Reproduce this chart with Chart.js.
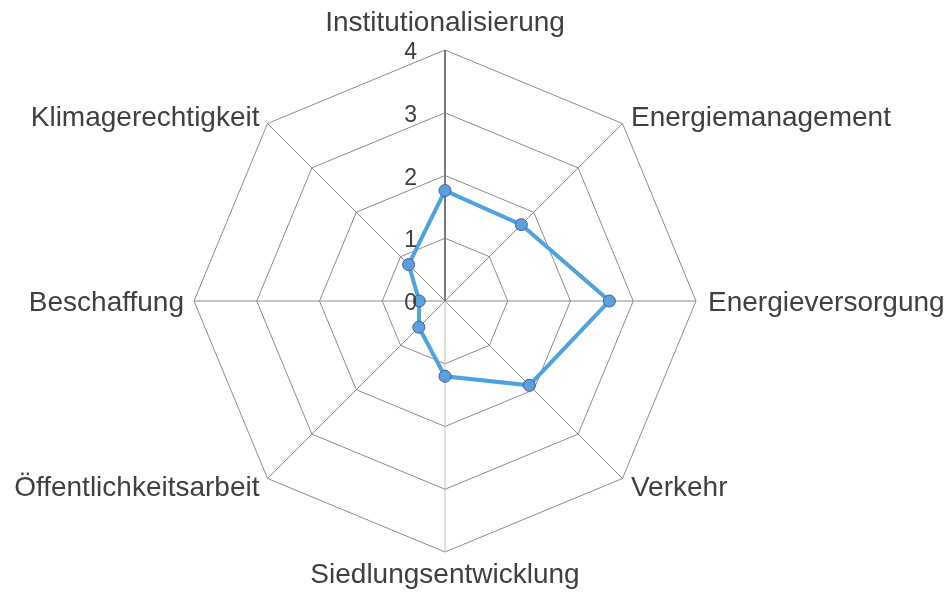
<!DOCTYPE html>
<html lang="de">
<head>
<meta charset="utf-8">
<title>Radar</title>
<script src="https://cdn.jsdelivr.net/npm/chart.js@4.4.1/dist/chart.umd.min.js"></script>
<style>
    html, body { margin: 0; padding: 0; background: #ffffff; }
    #wrap { width: 945px; height: 593px; position: relative; }
</style>
</head>
<body>
<div id="wrap"><canvas id="radarChart"></canvas></div>
<script>
// Chart data
const categories = [
    'Institutionalisierung',
    'Energiemanagement',
    'Energieversorgung',
    'Verkehr',
    'Siedlungsentwicklung',
    'Öffentlichkeitsarbeit',
    'Beschaffung',
    'Klimagerechtigkeit'
];
const scores = [1.76, 1.72, 2.62, 1.9, 1.2, 0.59, 0.41, 0.82];
const tickLabels = [0, 1, 2, 3, 4];

const textColor = '#404040';
const labelFont = '28px "Liberation Sans", Arial, sans-serif';
const tickFont = '23px "Liberation Sans", Arial, sans-serif';

// Draws the category names and the scale numbers like the original
const labelPlugin = {
    id: 'radarLabels',
    afterDraw(chart) {
        const scale = chart.scales.r;
        const ctx = chart.ctx;
        const r = scale.drawingArea;
        ctx.save();
        ctx.fillStyle = textColor;

        // scale numbers, left of the vertical axis
        ctx.font = tickFont;
        ctx.textAlign = 'right';
        ctx.textBaseline = 'alphabetic';
        tickLabels.forEach(v => {
            const y = scale.yCenter - scale.getDistanceFromCenterForValue(v);
            ctx.fillText(String(v), scale.xCenter - 28, y + 9);
        });

        // category labels around the outside
        ctx.font = labelFont;
        categories.forEach((name, i) => {
            const p = scale.getPointPosition(i, r);
            const a = (Math.PI * 2 * i) / categories.length;
            const s = Math.sin(a);
            const c = Math.cos(a);
            let x = p.x;
            let y;
            if (Math.abs(s) < 0.01) {
                ctx.textAlign = 'center';
                y = c > 0 ? p.y - 19 : p.y + 31;
            } else {
                ctx.textAlign = s > 0 ? 'left' : 'right';
                let gap;
                if (Math.abs(s) > 0.99) {
                    gap = s > 0 ? 12 : 10;
                } else {
                    gap = s > 0 ? 8.5 : 8;
                }
                x = p.x + (s > 0 ? gap : -gap);
                y = p.y + 10 - 10 * c;
            }
            ctx.fillText(name, x, y);
        });
        ctx.restore();
    }
};

const ctx = document.getElementById('radarChart').getContext('2d');
const radarChart = new Chart(ctx, {
    type: 'radar',
    data: {
        labels: categories,
        datasets: [{
            label: 'Bewertung',
            data: scores,
            fill: false,
            borderColor: '#4da3e0',
            borderWidth: 4,
            pointRadius: 6,
            pointHoverRadius: 6,
            pointBackgroundColor: '#5aa0de',
            pointBorderColor: '#4a5a9e',
            pointBorderWidth: 1
        }]
    },
    options: {
        responsive: true,
        maintainAspectRatio: false,
        animation: false,
        layout: {
            padding: { top: 50, bottom: 41, left: 0, right: 55 }
        },
        plugins: {
            legend: { display: false },
            tooltip: { enabled: false }
        },
        scales: {
            r: {
                min: 0,
                max: 4,
                ticks: { stepSize: 1, display: false },
                pointLabels: { display: false },
                grid: { color: '#8c8c8c', lineWidth: 1 },
                angleLines: {
                    color: c => c.index === 0 ? '#7a7a7a' : (c.index === 4 ? '#c0c0c0' : '#8c8c8c'),
                    lineWidth: c => c.index === 0 ? 2 : 1
                }
            }
        }
    },
    plugins: [labelPlugin]
});
</script>
</body>
</html>
